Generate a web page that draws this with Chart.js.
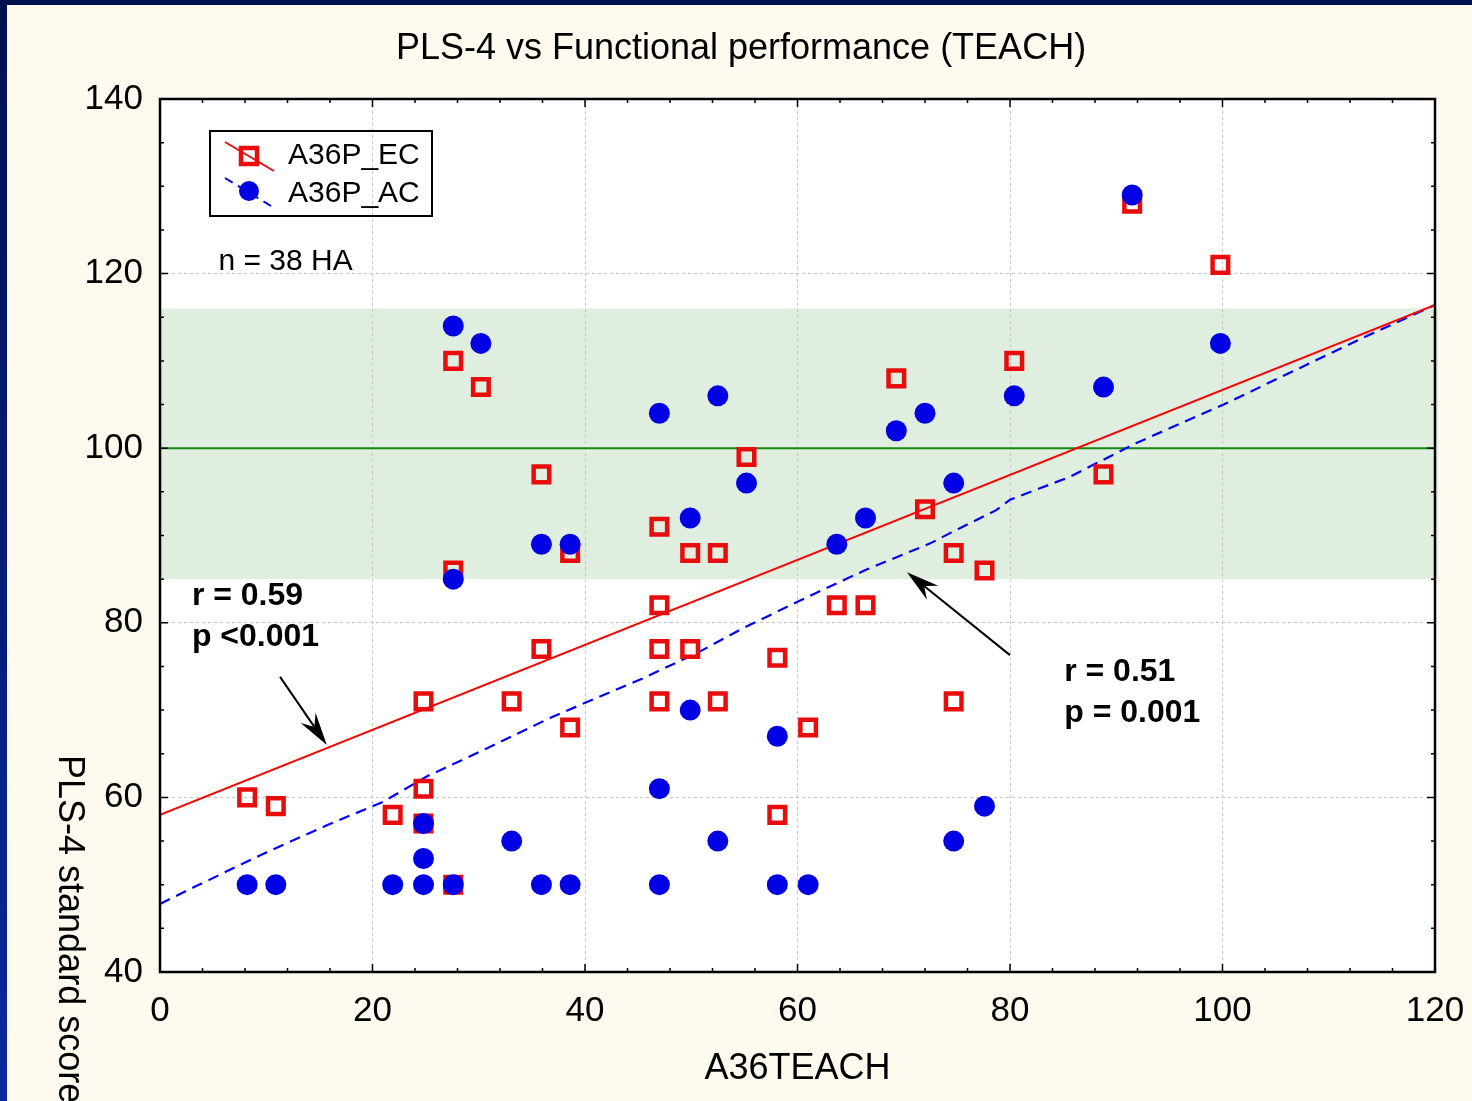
<!DOCTYPE html>
<html>
<head>
<meta charset="utf-8">
<script src="https://cdn.jsdelivr.net/npm/chart.js@4"></script>
<style>
  html, body { margin: 0; padding: 0; }
  body { width: 1472px; height: 1101px; overflow: hidden; position: relative;
         background: linear-gradient(#00104f, #0a2a9c); font-family: "Liberation Sans", Arial, sans-serif; }
  #panel { position: absolute; left: 7px; top: 5px; right: 0; bottom: 0; background: #fffaf0; }
  #wrap { position: absolute; left: 0; top: 0; width: 1472px; height: 1101px; }
</style>
</head>
<body>
<div id="panel"></div>
<div id="wrap"><canvas id="chart"></canvas></div>
<script>
// PLS-4 vs TEACH — scatter con dos grupos y sus rectas

const FONT = '"Liberation Sans", Arial, sans-serif';

// A36P_EC (cuadros rojos)
const ecX = [8.2, 10.9, 21.9, 24.8, 24.8, 24.8, 27.6, 30.2, 27.6, 27.6, 33.1, 35.9, 35.9, 38.6, 38.6,
             47.0, 47.0, 47.0, 47.0, 49.9, 49.9, 52.5, 52.5, 55.2, 58.1, 58.1, 61.0, 63.7, 66.4, 69.3,
             72.0, 74.7, 74.7, 77.6, 80.4, 88.8, 91.5, 99.8];
const ecY = [60, 59, 58, 71, 61, 57, 110, 107, 86, 50, 71, 97, 77, 68, 88,
             91, 82, 77, 71, 88, 77, 88, 71, 99, 76, 58, 68, 82, 82, 108,
             93, 88, 71, 86, 110, 97, 128, 121];

// A36P_AC (círculos azules)
const acX = [8.2, 10.9, 21.9, 24.8, 24.8, 24.8, 27.6, 27.6, 27.6, 30.2, 33.1, 35.9, 35.9, 38.6, 38.6,
             47.0, 47.0, 47.0, 49.9, 49.9, 52.5, 52.5, 55.2, 58.1, 58.1, 61.0, 63.7, 66.4, 69.3, 72.0,
             74.7, 74.7, 77.6, 80.4, 88.8, 91.5, 99.8];
const acY = [50, 50, 50, 50, 53, 57, 50, 85, 114, 112, 55, 50, 89, 50, 89,
             50, 61, 104, 92, 70, 106, 55, 96, 50, 67, 50, 89, 92, 102, 104,
             96, 55, 59, 106, 107, 129, 112];

// rectas de ajuste
const ecFitX = [0, 120];
const ecFitY = [58.0, 116.4];
const acFitX = [0, 3.5, 10.0, 15.7, 21.0, 25.1, 30.4, 36.7, 41.1, 45.2, 50.8, 54.9, 60.0, 64.0,
                66.5, 72.5, 74.4, 78.7, 80.0, 85.6, 88.5, 91.9, 100.1, 107.3, 114.2, 120];
const acFitY = [47.8, 49.9, 53.7, 56.8, 59.5, 62.4, 65.4, 69.1, 71.4, 73.5, 76.7, 79.4, 82.4, 84.7,
                86.1, 89.1, 90.3, 92.9, 94.1, 96.7, 98.5, 100.6, 105.0, 109.2, 113.2, 116.4];

const bandRange = [85, 116];   // banda normal
const refLine = 100;
const xTicks = [0, 20, 40, 60, 80, 100, 120];
const yTicks = [40, 60, 80, 100, 120, 140];

const RED = "rgb(232,12,12)";
const BLUE = "rgb(0,0,228)";

const pts = (xs, ys) => xs.map((x, i) => ({ x, y: ys[i] }));

function arrow(ctx, x1, y1, x2, y2) {
  const ang = Math.atan2(y2 - y1, x2 - x1);
  const L = 33, W = 9, N = 22;
  const c = Math.cos(ang), s = Math.sin(ang);
  ctx.beginPath(); ctx.moveTo(x1, y1);
  ctx.lineTo(x2 - c * N, y2 - s * N); ctx.stroke();
  ctx.beginPath();
  ctx.moveTo(x2, y2);
  ctx.lineTo(x2 - c * L - s * W, y2 - s * L + c * W);
  ctx.lineTo(x2 - c * N, y2 - s * N);
  ctx.lineTo(x2 - c * L + s * W, y2 - s * L - c * W);
  ctx.closePath(); ctx.fill();
}

const decor = {
  id: "decor",
  beforeDraw(chart) {
    const { ctx, chartArea: a, scales: { y } } = chart;
    ctx.save();
    ctx.fillStyle = "#ffffff";
    ctx.fillRect(a.left, a.top, a.right - a.left, a.bottom - a.top);
    const b1 = y.getPixelForValue(bandRange[1]), b0 = y.getPixelForValue(bandRange[0]);
    ctx.fillStyle = "#e0eee0";
    ctx.fillRect(a.left, b1, a.right - a.left + 3, b0 - b1);
    ctx.restore();
  },
  beforeDatasetsDraw(chart) {
    const { ctx, chartArea: a, scales: { y } } = chart;
    const py = y.getPixelForValue(refLine);
    ctx.save();
    ctx.strokeStyle = "#138a13"; ctx.lineWidth = 2;
    ctx.beginPath(); ctx.moveTo(a.left, py); ctx.lineTo(a.right, py); ctx.stroke();
    ctx.restore();
  },
  afterDraw(chart) {
    const { ctx, chartArea: a, scales: { x, y } } = chart;
    ctx.save();
    // marco y marcas hacia dentro
    ctx.strokeStyle = "#000"; ctx.lineWidth = 2.5;
    ctx.strokeRect(a.left, a.top, a.right - a.left, a.bottom - a.top);
    ctx.lineWidth = 1.5;
    ctx.beginPath();
    for (let v = 0; v <= 120; v += 4) {
      const px = x.getPixelForValue(v), len = v % 20 === 0 ? 8 : 4;
      ctx.moveTo(px, a.bottom); ctx.lineTo(px, a.bottom - len);
      ctx.moveTo(px, a.top); ctx.lineTo(px, a.top + len);
    }
    for (let v = 40; v <= 140; v += 5) {
      const py = y.getPixelForValue(v), len = v % 20 === 0 ? 8 : 4;
      ctx.moveTo(a.left, py); ctx.lineTo(a.left + len, py);
      ctx.moveTo(a.right, py); ctx.lineTo(a.right - len, py);
    }
    ctx.stroke();

    // leyenda
    const lx = a.left + 50, ly = a.top + 32;
    ctx.lineWidth = 2;
    ctx.strokeRect(lx, ly, 222, 85);
    ctx.strokeStyle = RED; ctx.lineWidth = 2;
    ctx.beginPath(); ctx.moveTo(lx + 15, ly + 11); ctx.lineTo(lx + 64, ly + 40); ctx.stroke();
    ctx.lineWidth = 4.5;
    ctx.strokeRect(lx + 39 - 8, ly + 25 - 8, 16, 16);
    ctx.strokeStyle = BLUE; ctx.lineWidth = 2; ctx.setLineDash([9, 6]);
    ctx.beginPath(); ctx.moveTo(lx + 15, ly + 47); ctx.lineTo(lx + 61, ly + 75); ctx.stroke();
    ctx.setLineDash([]);
    ctx.fillStyle = BLUE;
    ctx.beginPath(); ctx.arc(lx + 39, ly + 60, 10, 0, Math.PI * 2); ctx.fill();
    ctx.fillStyle = "#000";
    ctx.font = `30px ${FONT}`; ctx.textAlign = "left"; ctx.textBaseline = "middle";
    ctx.fillText("A36P_EC", lx + 78, ly + 25);
    ctx.fillText("A36P_AC", lx + 78, ly + 63);

    // anotaciones
    ctx.fillText("n = 38 HA", x.getPixelForValue(5.5), y.getPixelForValue(121.4));
    ctx.font = `bold 32px ${FONT}`;
    ctx.fillText("r = 0.59", x.getPixelForValue(3.0), y.getPixelForValue(83.1));
    ctx.fillText("p <0.001", x.getPixelForValue(3.0), y.getPixelForValue(78.4));
    ctx.fillText("r = 0.51", x.getPixelForValue(85.1), y.getPixelForValue(74.3));
    ctx.fillText("p = 0.001", x.getPixelForValue(85.1), y.getPixelForValue(69.6));

    ctx.strokeStyle = "#000"; ctx.lineWidth = 2;
    arrow(ctx, x.getPixelForValue(11.3), y.getPixelForValue(73.8), x.getPixelForValue(15.7), y.getPixelForValue(66.0));
    arrow(ctx, x.getPixelForValue(80.0), y.getPixelForValue(76.3), x.getPixelForValue(70.3), y.getPixelForValue(85.8));

    // título y título del eje Y (girado hacia abajo)
    ctx.font = `36px ${FONT}`; ctx.textAlign = "center";
    ctx.fillText("PLS-4 vs Functional performance (TEACH)", 741, 49);
    ctx.translate(69, 755); ctx.rotate(Math.PI / 2);
    ctx.textAlign = "left";
    ctx.fillText("PLS-4 standard score", 0, 0);
    ctx.restore();
  }
};

const gridColor = (edges) => (c) => edges.includes(c.tick.value) ? "rgba(0,0,0,0)" : "#c4c4c4";

new Chart(document.getElementById("chart"), {
  type: "scatter",
  data: {
    datasets: [
      { label: "A36P_AC", data: pts(acX, acY), pointStyle: "circle", pointRadius: 10.5, pointHoverRadius: 10.5,
        backgroundColor: BLUE, borderColor: BLUE, borderWidth: 0, order: 0 },
      { label: "A36P_EC", data: pts(ecX, ecY), pointStyle: "rect", pointRadius: 11, pointHoverRadius: 11,
        backgroundColor: "rgba(0,0,0,0)", borderColor: RED, borderWidth: 4.5, order: 1 },
      { label: "fit EC", data: pts(ecFitX, ecFitY), showLine: true, pointRadius: 0, borderColor: "#ff0000",
        borderWidth: 2, tension: 0, order: 2 },
      { label: "fit AC", data: pts(acFitX, acFitY), showLine: true, pointRadius: 0, borderColor: "#0000ff",
        borderWidth: 2.2, borderDash: [11, 7], tension: 0, order: 3 },
    ],
  },
  options: {
    responsive: true,
    maintainAspectRatio: false,
    animation: false,
    devicePixelRatio: 1,
    layout: { padding: { top: 99, right: 37, left: 0, bottom: 0 } },
    plugins: { legend: { display: false }, tooltip: { enabled: false } },
    scales: {
      x: {
        type: "linear", min: 0, max: 120,
        afterBuildTicks: (s) => { s.ticks = xTicks.map((v) => ({ value: v })); },
        afterFit: (s) => { s.height = 129; s.paddingLeft = 0; s.paddingRight = 0; },
        ticks: { color: "#000", font: { size: 35, family: FONT }, padding: 18, maxRotation: 0 },
        grid: { color: gridColor([0, 120]), drawTicks: false, lineWidth: 1 },
        border: { display: false, dash: [3, 3] },
        title: { display: true, text: "A36TEACH", color: "#000", font: { size: 36, family: FONT }, padding: { bottom: 10 } },
      },
      y: {
        type: "linear", min: 40, max: 140,
        afterBuildTicks: (s) => { s.ticks = yTicks.map((v) => ({ value: v })); },
        afterFit: (s) => { s.width = 160; s.paddingTop = 0; s.paddingBottom = 0; },
        ticks: { color: "#000", font: { size: 35, family: FONT }, padding: 17 },
        grid: { color: gridColor([40, 140]), drawTicks: false, lineWidth: 1 },
        border: { display: false, dash: [3, 3] },
      },
    },
  },
  plugins: [decor],
});
</script>
</body>
</html>
